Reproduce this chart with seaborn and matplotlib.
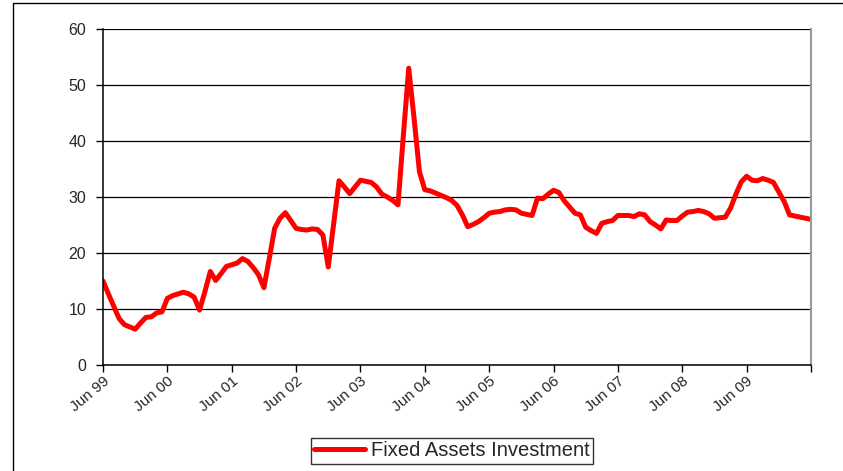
import numpy as np
import pandas as pd
import seaborn as sns
import matplotlib.pyplot as plt
from matplotlib.patches import Rectangle

# monthly values, Jun 1999 -> Jun 2010
fai_growth = [
    15.0, 12.7, 10.5, 8.3, 7.2, 6.8, 6.4, 7.5, 8.5, 8.6,
    9.3, 9.5, 11.9, 12.4, 12.7, 13.0, 12.7, 12.1, 9.8, 13.1,
    16.7, 15.1, 16.3, 17.6, 17.9, 18.2, 19.0, 18.5, 17.4, 16.1,
    13.8, 19.0, 24.4, 26.2, 27.2, 25.8, 24.4, 24.2, 24.1, 24.3,
    24.2, 23.2, 17.5, 25.2, 32.9, 31.8, 30.6, 31.8, 33.0, 32.8,
    32.6, 31.8, 30.5, 30.0, 29.4, 28.6, 41.0, 53.0, 44.0, 34.5,
    31.3, 31.1, 30.7, 30.3, 29.9, 29.4, 28.5, 26.8, 24.7, 25.1,
    25.6, 26.3, 27.1, 27.3, 27.4, 27.7, 27.8, 27.7, 27.1, 26.9,
    26.7, 29.8, 29.7, 30.5, 31.2, 30.8, 29.3, 28.2, 27.1, 26.8,
    24.6, 24.0, 23.5, 25.3, 25.6, 25.8, 26.7, 26.7, 26.7, 26.5,
    27.0, 26.8, 25.6, 25.0, 24.3, 25.9, 25.8, 25.8, 26.6, 27.3,
    27.4, 27.6, 27.4, 27.0, 26.2, 26.3, 26.4, 28.0, 30.5, 32.7,
    33.7, 33.0, 32.9, 33.3, 33.0, 32.6, 30.9, 29.2, 26.8, 26.6,
    26.4, 26.2, 26.0,
]
tick_labels = ["Jun 99", "Jun 00", "Jun 01", "Jun 02", "Jun 03", "Jun 04",
               "Jun 05", "Jun 06", "Jun 07", "Jun 08", "Jun 09", ""]
y_ticks = [0, 10, 20, 30, 40, 50, 60]
series_name = "Fixed Assets Investment"

sns.set_style("white")
plt.rcParams['font.family'] = ['Liberation Sans', 'DejaVu Sans']

df = pd.DataFrame({"month": np.arange(len(fai_growth)), "value": fai_growth})

W, H = 843, 471
fig = plt.figure(figsize=(W / 100, H / 100), dpi=100)
ax = fig.add_axes([103 / W, 1 - 365 / H, (811 - 103) / W, (365 - 29) / H])

sns.lineplot(data=df, x="month", y="value", color="#ff0000", lw=3.6,
             ax=ax, label=series_name, legend=False, solid_joinstyle="round")

ax.set_xlim(0, len(fai_growth) - 1)
ax.set_ylim(0, 60)
ax.set_yticks(y_ticks)
ax.set_xticks(np.arange(0, len(fai_growth), 12))
ax.set_xticklabels(tick_labels, rotation=40, ha="right", rotation_mode="anchor")
ax.set_xlabel("")
ax.set_ylabel("")
ax.yaxis.grid(True, color="black", lw=0.9)
ax.set_axisbelow(True)

ax.tick_params(axis="both", direction="out", length=5, width=1, color="black",
               labelsize=11, bottom=True, left=True)
ax.tick_params(axis="x", pad=1.5)
ax.tick_params(axis="y", labelsize=11.5, pad=7)

for side in ["left", "bottom"]:
    ax.spines[side].set_color("black")
    ax.spines[side].set_linewidth(1.1)
ax.spines["top"].set_visible(False)
ax.spines["right"].set_color("#9a9a9a")
ax.spines["right"].set_linewidth(1.5)

handles, labels = ax.get_legend_handles_labels()
leg = fig.legend(handles, labels, loc="center", bbox_to_anchor=(452 / W, 1 - 451 / H),
                 frameon=True, fancybox=False, edgecolor="black", fontsize=14.5,
                 handlelength=2.5, borderpad=0.15, handletextpad=0.3)
leg.get_frame().set_linewidth(1.0)

# outer chart border (runs off the right and bottom edges)
fig.patches.append(Rectangle((13 / W, -0.1), 1.2, 1.1 - 3 / H, transform=fig.transFigure,
                             fill=False, ec="black", lw=1.0))

fig.savefig("out.png", dpi=100)
